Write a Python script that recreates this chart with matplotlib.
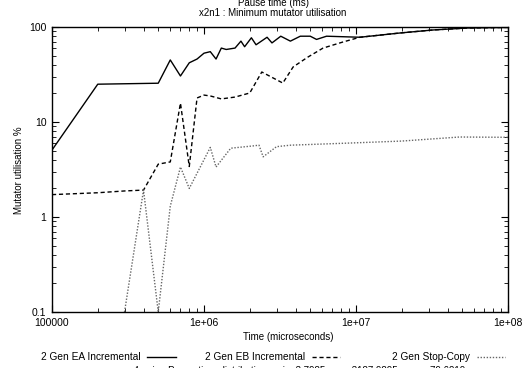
import matplotlib
matplotlib.use("Agg")
import matplotlib.pyplot as plt
from matplotlib.lines import Line2D
from matplotlib.ticker import LogLocator, FixedLocator, FixedFormatter, NullFormatter

plt.rcParams['font.family'] = ['Liberation Sans', 'DejaVu Sans']

# time (microseconds) / minimum mutator utilisation (%)
ea_t = [1e5, 2e5, 5e5, 6e5, 7e5, 8e5, 9e5, 1.0e6, 1.1e6, 1.2e6, 1.3e6, 1.4e6,
        1.6e6, 1.75e6, 1.85e6, 2.05e6, 2.2e6, 2.6e6, 2.8e6, 3.2e6, 3.7e6,
        4.3e6, 5.0e6, 5.5e6, 6.4e6, 1.06e7, 1.95e7, 3.2e7, 5.4e7, 1e8]
ea_mmu = [5.07, 25.0, 25.6, 45.0, 30.5, 42.0, 46.0, 53.0, 55.0, 46.0, 60.0, 58.0,
          60.0, 71.0, 62.0, 77.0, 65.0, 78.0, 68.0, 80.0, 71.0,
          80.0, 80.0, 74.0, 80.0, 78.0, 86.5, 93.0, 97.6, 99.0]

eb_t = [1e5, 2e5, 3e5, 4e5, 5e5, 6e5, 7e5, 8e5, 9e5, 1.0e6, 1.1e6, 1.3e6, 1.6e6,
        2.0e6, 2.4e6, 3.3e6, 3.86e6, 4.8e6, 6.07e6, 8.2e6, 1.06e7, 1.95e7,
        3.2e7, 5.4e7, 1e8]
eb_mmu = [1.72, 1.8, 1.88, 1.92, 3.6, 3.8, 15.8, 3.4, 17.9, 19.2, 18.8, 17.5, 18.3,
          20.2, 33.6, 25.7, 38.0, 48.0, 60.0, 69.5, 78.0, 86.5,
          93.0, 97.6, 99.0]

sc_t = [3e5, 4e5, 5e5, 6e5, 7e5, 8e5, 1.1e6, 1.2e6, 1.5e6, 2.1e6, 2.3e6, 2.45e6,
        3.0e6, 3.7e6, 9e6, 2e7, 4.8e7, 1e8]
sc_mmu = [0.1, 1.92, 0.1, 1.3, 3.36, 2.0, 5.4, 3.36, 5.3, 5.6, 5.7, 4.3,
          5.5, 5.7, 6.0, 6.3, 6.95, 6.9]

x_ticks = [1e5, 1e6, 1e7, 1e8]
x_labels = ['100000', '1e+06', '1e+07', '1e+08']
y_ticks = [0.1, 1, 10, 100]
y_labels = ['0.1', '1', '10', '100']

series = [
    ('2 Gen EA Incremental', ea_t, ea_mmu, dict(color='black', linestyle='-')),
    ('2 Gen EB Incremental', eb_t, eb_mmu, dict(color='black', linestyle=(0, (3, 2)))),
    ('2 Gen Stop-Copy', sc_t, sc_mmu, dict(color='#666666', linestyle=(0, (1, 1.2)))),
]

FS = 7
W, H = 529, 368
fig = plt.figure(figsize=(W / 100, H / 100), dpi=100)
ax = fig.add_axes([52 / W, 1 - 312 / H, (508 - 52) / W, (312 - 27) / H])

for name, t, v, style in series:
    ax.plot(t, v, lw=1.0, **style)

ax.set_xscale('log')
ax.set_yscale('log')
ax.set_xlim(1e5, 1e8)
ax.set_ylim(0.1, 100)

ax.xaxis.set_major_locator(FixedLocator(x_ticks))
ax.xaxis.set_major_formatter(FixedFormatter(x_labels))
ax.yaxis.set_major_locator(FixedLocator(y_ticks))
ax.yaxis.set_major_formatter(FixedFormatter(y_labels))
ax.xaxis.set_minor_locator(LogLocator(base=10, subs=range(2, 10)))
ax.yaxis.set_minor_locator(LogLocator(base=10, subs=range(2, 10)))
ax.xaxis.set_minor_formatter(NullFormatter())
ax.yaxis.set_minor_formatter(NullFormatter())
ax.tick_params(which='both', direction='in', top=True, right=True, labelsize=FS + 0.5, pad=4)
ax.tick_params(which='major', length=5, width=0.8)
ax.tick_params(which='minor', length=3, width=0.6)
for s in ax.spines.values():
    s.set_linewidth(1.0)

ax.set_xlabel('Time (microseconds)', fontsize=FS)
ax.set_ylabel('Mutator utilisation %', fontsize=FS)
ax.xaxis.set_label_coords(288 / W, 1 - 337 / H, transform=fig.transFigure)
ax.yaxis.set_label_coords(19 / W, 1 - 170 / H, transform=fig.transFigure)
ax.xaxis.label.set_va('center')
ax.yaxis.label.set_va('center')

fig.text(273 / W, 1 - 3 / H, 'Pause time (ms)', ha='center', va='center', fontsize=FS)
fig.text(273 / W, 1 - 13 / H, 'x2n1 : Minimum mutator utilisation', ha='center', va='center', fontsize=FS)

# key row under the x label
key = [(141, 147, 176), (305, 312, 340), (470, 477, 505)]
for (name, t, v, style), (tx, l0, l1) in zip(series, key):
    y = 1 - 357 / H
    fig.text(tx / W, y, name, ha='right', va='center', fontsize=FS + 0.3)
    fig.lines.append(Line2D([l0 / W, l1 / W], [y, y], transform=fig.transFigure, lw=1.0, **style))

fig.text(288 / W, 1 - 365.5 / H,
         'wave4main : Pause time distribution : min. 3.7985 max. 3187.9895 mean. 79.6219',
         ha='center', va='top', fontsize=FS)

fig.savefig('out.png', dpi=100)
